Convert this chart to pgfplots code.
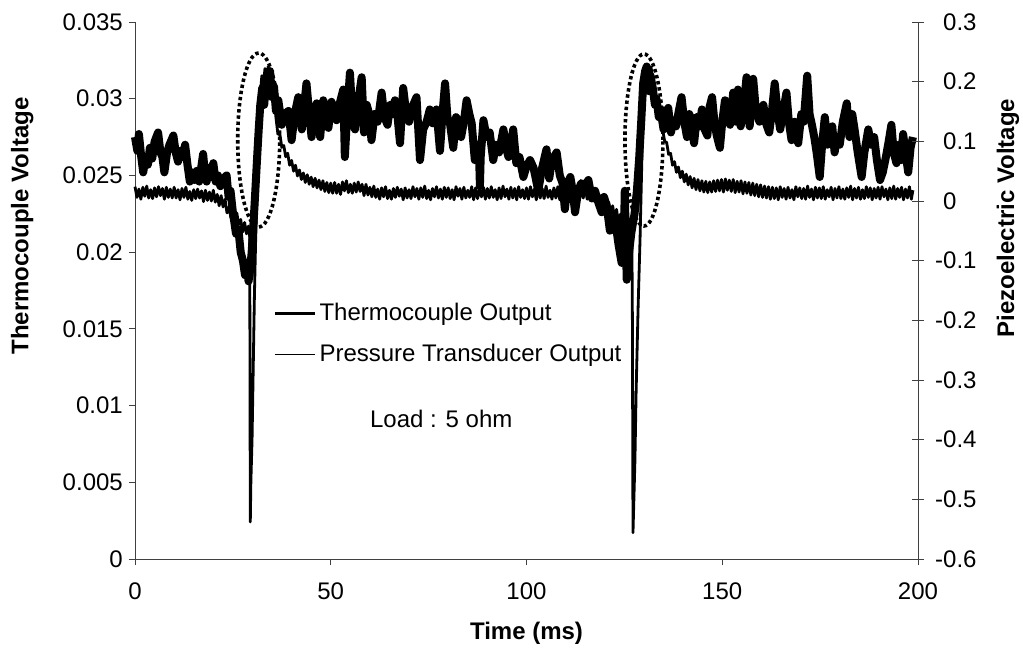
\documentclass[border=0pt]{standalone}
\usepackage{fontspec}
\setmainfont{Liberation Sans}
\usepackage{pgfplots}
\pgfplotsset{compat=1.18}
\begin{document}
\begin{tikzpicture}
\useasboundingbox (-135pt,-92pt) rectangle (888pt,559pt);
\pgfplotsset{
  common/.style={scale only axis, width=783pt, height=537pt, at={(0pt,0pt)}, anchor=south west,
    xmin=0, xmax=200, font=\fontsize{24}{28}\selectfont,
    scaled x ticks=false, scaled y ticks=false,
    axis line style={-, line width=0.9pt, black!75}, tick style={line width=0.9pt, black!75},
    clip=false},
}
\begin{axis}[common,
  ymin=0, ymax=0.035,
  axis x line*=bottom, axis y line*=left,
  xtick={0,50,100,150,200}, xticklabels={0,50,100,150,200},
  ytick={0,0.005,0.01,0.015,0.02,0.025,0.03,0.035},
  yticklabels={0,0.005,0.01,0.015,0.02,0.025,0.03,0.035},
  tick align=outside, major tick length=6pt,
  yticklabel style={anchor=east, inner sep=0pt, xshift=-6pt},
  xticklabel style={anchor=north, inner sep=0pt, yshift=-18pt},
  xlabel={\bfseries Time (ms)}, ylabel={\bfseries Thermocouple Voltage},
  xlabel style={at={(axis description cs:0.5,-0.138)}, anchor=center},
  ylabel style={at={(axis description cs:-0.144,0.62)}, anchor=center},
  legend style={at={(axis cs:35.25,0.01664)}, anchor=north west, draw=none, fill=none,
    inner sep=0pt, outer sep=0pt, row sep=19pt, column sep=3pt,
    nodes={inner sep=0pt, text height=17pt, text depth=5pt},
    font=\fontsize{24}{28}\selectfont},
  legend cell align=left,
  legend image code/.code={\draw[#1] (0pt,1pt) -- (40pt,1pt);},
]
\addplot[black, line width=8pt, line join=round, forget plot] coordinates {
(0,0.0275) (0.6,0.0266) (1.0,0.0277) (1.6,0.0262) (2.1,0.0252) (2.7,0.0262) (3.3,0.0257) (3.8,0.0268)
(4.4,0.0261) (5.0,0.0272) (5.9,0.0278) (6.5,0.0265) (7.0,0.0262) (7.5,0.0252) (8.2,0.0265) (8.8,0.0270)
(9.8,0.0276) (10.4,0.0265) (11.0,0.0259) (11.6,0.0266) (12.2,0.0262) (12.8,0.0270) (13.4,0.0257) (14.0,0.0246)
(14.6,0.0252) (15.2,0.0247) (15.8,0.0253) (16.4,0.0246) (17.4,0.0264) (17.9,0.0250) (18.3,0.0246) (18.8,0.0255)
(19.4,0.0249) (20.0,0.0258) (20.6,0.0246) (21.2,0.0250) (21.8,0.0243) (22.6,0.0248) (23.4,0.0250) (23.9,0.0236)
(24.4,0.0240) (25.0,0.0226) (25.8,0.0212) (26.4,0.0215) (27.0,0.0200) (27.6,0.0194) (28.1,0.0185) (28.5,0.0193)
(29.0,0.0181) (29.3,0.0186) (29.8,0.0200) (30.3,0.0220) (30.8,0.0243) (31.2,0.0262) (31.6,0.0280) (32.0,0.0296)
(32.5,0.0307) (33.0,0.0296) (33.5,0.0312) (34.0,0.0303) (34.5,0.0318) (35.0,0.0301) (35.5,0.0308) (36.0,0.0292)
(36.6,0.0299) (37.5,0.0283) (38.2,0.0290) (39.2,0.0292) (40.0,0.0273) (40.8,0.0290) (41.7,0.0301) (42.6,0.0280)
(43.2,0.0295) (43.8,0.0310) (44.5,0.0290) (45.1,0.0275) (45.8,0.0292) (46.4,0.0297) (47.3,0.0275) (48.1,0.0299)
(48.8,0.0285) (49.4,0.0281) (50.2,0.0298) (50.8,0.0290) (51.5,0.0286) (52.2,0.0296) (53.2,0.0306) (53.6,0.0262)
(54.2,0.0290) (54.9,0.0317) (55.6,0.0285) (56.2,0.0280) (57.0,0.0298) (57.9,0.0314) (58.5,0.0278) (59.2,0.0296)
(59.8,0.0290) (60.4,0.0273) (61.2,0.0290) (62.0,0.0285) (63.0,0.0304) (63.7,0.0288) (64.5,0.0283) (65.2,0.0296)
(65.8,0.0290) (66.4,0.0299) (67.0,0.0290) (67.7,0.0271) (68.5,0.0307) (69.3,0.0290) (70.0,0.0285) (70.9,0.0295)
(71.9,0.0301) (72.8,0.0260) (73.6,0.0280) (74.5,0.0285) (75.3,0.0293) (76.0,0.0284) (77.0,0.0293) (77.9,0.0266)
(78.6,0.0292) (79.2,0.0310) (79.8,0.0288) (80.5,0.0283) (81.3,0.0268) (82.0,0.0288) (82.7,0.0285) (83.3,0.0275)
(84.0,0.0285) (84.7,0.0299) (85.4,0.0290) (86.0,0.0284) (86.8,0.0260) (87.5,0.0270) (87.9,0.0262) (88.1,0.0243)
(88.3,0.0262) (89.0,0.0286) (89.8,0.0275) (90.6,0.0278) (91.5,0.0260) (92.2,0.0270) (93.0,0.0265) (94.1,0.0280)
(94.8,0.0268) (95.4,0.0262) (96.0,0.0270) (96.6,0.0280) (97.4,0.0258) (98.2,0.0262) (99.2,0.0249) (100.0,0.0256)
(100.9,0.0260) (101.8,0.0255) (103.0,0.0240) (104.0,0.0255) (105.1,0.0267) (105.8,0.0248) (106.5,0.0260) (107.7,0.0265)
(108.5,0.0250) (109.2,0.0245) (109.8,0.0228) (110.5,0.0245) (111.2,0.0249) (111.8,0.0240) (112.4,0.0226) (113.2,0.0240)
(114.0,0.0245) (114.8,0.0243) (115.8,0.0247) (116.7,0.0235) (117.5,0.0240) (118.4,0.0232) (119.2,0.0226) (119.8,0.0236)
(120.5,0.0230) (121.3,0.0214) (122.0,0.0222) (122.8,0.0218) (123.5,0.0205) (124.3,0.0193) (124.8,0.0200) (125.1,0.0240)
(125.4,0.0205) (125.6,0.0182) (126.2,0.0200) (126.8,0.0213) (127.6,0.0225) (128.2,0.0240) (128.8,0.0262) (129.3,0.0285)
(129.8,0.0310) (130.3,0.0318) (130.7,0.0321) (131.2,0.0305) (131.7,0.0315) (132.3,0.0306) (132.8,0.0296) (133.2,0.0300)
(133.8,0.0288) (134.3,0.0293) (135.0,0.0280) (135.6,0.0290) (136.2,0.0294) (136.9,0.0278) (137.5,0.0286) (138.2,0.0282)
(138.9,0.0292) (139.6,0.0301) (140.3,0.0285) (141.0,0.0275) (141.6,0.0290) (142.2,0.0283) (142.8,0.0271) (143.5,0.0288)
(144.2,0.0282) (144.8,0.0293) (145.5,0.0280) (146.2,0.0276) (146.8,0.0295) (147.4,0.0301) (148.0,0.0285) (148.6,0.0276)
(149.4,0.0268) (150.0,0.0285) (150.7,0.0299) (151.3,0.0289) (152.0,0.0283) (152.8,0.0304) (153.5,0.0285) (154.0,0.0306)
(154.7,0.0282) (155.3,0.0290) (156.2,0.0314) (157.0,0.0282) (157.9,0.0313) (158.6,0.0292) (159.5,0.0285) (160.5,0.0296)
(161.3,0.0283) (162.0,0.0278) (162.7,0.0292) (163.4,0.0310) (164.2,0.0290) (164.8,0.0280) (165.6,0.0292) (166.4,0.0304)
(167.0,0.0285) (167.7,0.0273) (168.5,0.0285) (169.4,0.0271) (170.2,0.0290) (170.8,0.0285) (171.7,0.0315) (172.3,0.0290)
(172.9,0.0283) (173.5,0.0275) (174.1,0.0265) (174.9,0.0249) (175.5,0.0270) (176.2,0.0288) (176.9,0.0270) (177.5,0.0278)
(178.1,0.0282) (178.7,0.0265) (179.3,0.0275) (180.0,0.0270) (180.8,0.0285) (181.8,0.0297) (182.5,0.0275) (183.2,0.0290)
(183.8,0.0280) (184.6,0.0265) (185.6,0.0249) (186.3,0.0265) (187.3,0.0280) (188.0,0.0270) (188.8,0.0275) (189.5,0.0260)
(190.3,0.0247) (191.0,0.0252) (191.8,0.0262) (192.5,0.0272) (193.2,0.0283) (193.8,0.0265) (194.5,0.0258) (195.1,0.0270)
(195.7,0.0260) (196.2,0.0277) (196.8,0.0265) (197.5,0.0252) (198.1,0.0268) (198.7,0.0275)
};
\addlegendimage{black, line width=3.5pt}
\addlegendentry{Thermocouple Output}
\addlegendimage{black, line width=1pt}
\addlegendentry{Pressure Transducer Output}
\draw[black, line width=3.6pt, dash pattern=on 3.4pt off 2.8pt] (axis cs:31.6,0.02731) ellipse [x radius=21pt, y radius=87pt];
\draw[black, line width=3.6pt, dash pattern=on 3.4pt off 2.8pt] (axis cs:130.0,0.02731) ellipse [x radius=19pt, y radius=86pt];
\node[anchor=base west, inner sep=0pt, font=\fontsize{24}{28}\selectfont] at (axis cs:60.0,0.00854) {Load : 5 ohm};
\end{axis}
\begin{axis}[common,
  ymin=-0.6, ymax=0.3,
  axis y line*=right, axis x line=none,
  ytick={-0.6,-0.5,-0.4,-0.3,-0.2,-0.1,0,0.1,0.2,0.3},
  yticklabels={\llap{-}0.6,\llap{-}0.5,\llap{-}0.4,\llap{-}0.3,\llap{-}0.2,\llap{-}0.1,0,0.1,0.2,0.3},
  tick align=center, major tick length=12pt,
  yticklabel style={anchor=west, inner sep=0pt, xshift=19pt},
  ylabel={\bfseries Piezoelectric Voltage},
  ylabel style={at={(axis description cs:1.115,0.635)}, anchor=center},
]
\addplot[black, line width=2.8pt, line join=round] coordinates {
(0,0.024) (0.5,0.006) (1,0.020) (1.5,0.003) (2,0.023) (2.5,0.008) (3,0.025) (3.5,0.005) (4,0.019) (4.5,0.004)
(5,0.022) (5.5,0.007) (6,0.024) (6.5,0.009) (7,0.021) (7.5,0.003) (8,0.023) (8.5,0.006) (9,0.020) (9.5,0.005)
(10,0.023) (10.5,0.005) (11,0.019) (11.5,0.002) (12,0.021) (12.5,0.006) (13,0.023) (13.5,0.003) (14,0.016) (14.5,0.001)
(15,0.019) (15.5,0.004) (16,0.020) (16.5,0.005) (17,0.017) (17.5,-0.001) (18,0.018) (18.5,0.001) (19,0.015) (19.5,0.000)
(20,0.018) (20.5,-0.002) (21,0.011) (21.5,-0.008) (22,0.009) (22.5,-0.010) (23,0.003) (23.5,-0.020) (24,-0.010) (24.5,-0.028)
(25,-0.014) (25.5,-0.033) (26,-0.020) (26.5,-0.039) (27,-0.031) (27.5,-0.052) (28,-0.036) (28.5,-0.055) (29,-0.042) (29.3,-0.060)
(29.45,-0.538) (29.6,-0.470) (29.9,-0.400) (30.2,-0.280) (30.5,-0.160) (30.8,-0.070) (31.1,0.000) (31.4,0.085) (31.9,0.170) (32.4,0.210)
(32.8,0.195) (33.2,0.222) (33.6,0.205) (34.0,0.225) (34.4,0.208) (34.8,0.215) (35.2,0.190) (35.6,0.170) (36.0,0.140) (36.5,0.112)
(37,0.112) (37.5,0.090) (38,0.093) (38.5,0.074) (39,0.080) (39.5,0.060) (40,0.068) (40.5,0.050) (41,0.060) (41.5,0.042)
(42,0.052) (42.5,0.036) (43,0.047) (43.5,0.031) (44,0.044) (44.5,0.028) (45,0.040) (45.5,0.024) (46,0.038) (46.5,0.022)
(47,0.035) (47.5,0.019) (48,0.034) (48.5,0.016) (49,0.031) (49.5,0.014) (50,0.030) (50.5,0.013)
(51,0.031) (51.5,0.013) (52,0.028) (52.5,0.011) (53,0.032) (53.5,0.017) (54,0.034) (54.5,0.014) (55,0.028) (55.5,0.013)
(56,0.030) (56.5,0.015) (57,0.032) (57.5,0.016) (58,0.028) (58.5,0.009) (59,0.028) (59.5,0.010) (60,0.023) (60.5,0.007)
(61,0.025) (61.5,0.006) (62,0.020) (62.5,0.003)
(63,0.022) (63.5,0.007) (64,0.024) (64.5,0.004) (65,0.018) (65.5,0.003) (66,0.021) (66.5,0.006) (67,0.023) (67.5,0.008)
(68,0.020) (68.5,0.002) (69,0.022) (69.5,0.005) (70,0.019) (70.5,0.004) (71,0.024) (71.5,0.007) (72,0.021) (72.5,0.003)
(73,0.022) (73.5,0.006) (74,0.025) (74.5,0.004) (75,0.018) (75.5,0.002) (76,0.021) (76.5,0.007) (77,0.024) (77.5,0.005)
(78,0.020) (78.5,0.003) (79,0.023) (79.5,0.006) (80,0.022) (80.5,0.004) (81,0.019) (81.5,0.002) (82,0.024) (82.5,0.008)
(83,0.021) (83.5,0.003) (84,0.023) (84.5,0.005) (85,0.018) (85.5,0.006) (86,0.024) (86.5,0.002) (87,0.022) (87.5,0.004)
(88,0.020) (88.5,0.007) (89,0.023) (89.5,0.003) (90,0.021) (90.5,0.005) (91,0.024) (91.5,0.006) (92,0.019) (92.5,0.002)
(93,0.022) (93.5,0.004) (94,0.025) (94.5,0.007) (95,0.020) (95.5,0.003) (96,0.023) (96.5,0.005) (97,0.021) (97.5,0.002)
(98,0.024) (98.5,0.006) (99,0.019) (99.5,0.004) (100,0.022) (100.5,0.003) (101,0.024) (101.5,0.007) (102,0.020) (102.5,0.002)
(103,0.023) (103.5,0.005) (104,0.021) (104.5,0.004) (105,0.025) (105.5,0.006) (106,0.018) (106.5,0.003) (107,0.022) (107.5,0.005)
(108,0.024) (108.5,0.002) (109,0.020) (109.5,0.006) (110,0.023) (110.5,0.004) (111,0.021) (111.5,0.003) (112,0.024) (112.5,0.007)
(113,0.019) (113.5,0.002) (114,0.022) (114.5,0.005) (115,0.023) (115.5,0.003) (116,0.020) (116.5,0.001)
(117,0.018) (117.5,-0.002) (118,0.014) (118.5,-0.008) (119,0.009) (119.5,-0.009) (120,0.005) (120.5,-0.018) (121,-0.002) (121.5,-0.024)
(122,-0.008) (122.5,-0.028) (123,-0.014) (123.5,-0.038) (124,-0.022) (124.5,-0.045) (125,-0.030) (125.5,-0.052) (126,-0.037) (126.5,-0.058)
(126.9,-0.045) (127.05,-0.200) (127.2,-0.556) (127.7,-0.434) (128.0,-0.320) (128.5,-0.180) (129.0,-0.065) (129.4,0.050) (129.8,0.170) (130.3,0.215)
(130.8,0.228) (131.3,0.205) (131.8,0.225) (132.3,0.200) (132.8,0.190) (133.3,0.160) (133.8,0.145) (134.3,0.125) (134.8,0.118)
(135.3,0.100) (135.8,0.098) (136.3,0.078) (136.8,0.080) (137.3,0.060) (137.8,0.066) (138.3,0.048) (138.8,0.057) (139.3,0.039) (139.8,0.050)
(140.3,0.032) (140.8,0.045) (141.3,0.027) (141.8,0.041) (142.3,0.022) (142.8,0.038) (143.3,0.019) (143.8,0.036) (144.3,0.017) (144.8,0.034)
(145.3,0.015) (145.8,0.033) (146.3,0.014) (146.8,0.032) (147.3,0.015) (147.8,0.034)
(148.3,0.016) (148.8,0.035) (149.3,0.017) (149.8,0.036) (150.3,0.015) (150.8,0.037) (151.3,0.018) (151.8,0.035) (152.3,0.016) (152.8,0.036)
(153.3,0.014) (153.8,0.033) (154.3,0.015) (154.8,0.034) (155.3,0.012) (155.8,0.032) (156.3,0.013) (156.8,0.031) (157.3,0.010) (157.8,0.030)
(158.3,0.009) (158.8,0.028) (159.3,0.007) (159.8,0.027) (160.3,0.006) (160.8,0.025) (161.3,0.005) (161.8,0.024) (162.3,0.003) (162.8,0.023)
(163.3,0.004) (163.8,0.022) (164.3,0.002) (164.8,0.024) (165.3,0.006) (165.8,0.021) (166.3,0.003) (166.8,0.023) (167.3,0.005) (167.8,0.019)
(168.3,0.002) (168.8,0.024) (169.3,0.007) (169.8,0.022) (170.3,0.004) (170.8,0.021) (171.3,0.003) (171.8,0.025) (172.3,0.006) (172.8,0.020)
(173.3,0.002) (173.8,0.023) (174.3,0.005) (174.8,0.022) (175.3,0.004) (175.8,0.024) (176.3,0.003) (176.8,0.019) (177.3,0.007) (177.8,0.023)
(178.3,0.002) (178.8,0.021) (179.3,0.005) (179.8,0.024) (180.3,0.004) (180.8,0.020) (181.3,0.003) (181.8,0.022) (182.3,0.006) (182.8,0.025)
(183.3,0.002) (183.8,0.021) (184.3,0.005) (184.8,0.023) (185.3,0.003) (185.8,0.019) (186.3,0.004) (186.8,0.024) (187.3,0.006) (187.8,0.022)
(188.3,0.002) (188.8,0.021) (189.3,0.005) (189.8,0.023) (190.3,0.003) (190.8,0.024) (191.3,0.007) (191.8,0.020) (192.3,0.002) (192.8,0.022)
(193.3,0.004) (193.8,0.025) (194.3,0.003) (194.8,0.021) (195.3,0.006) (195.8,0.023) (196.3,0.002) (196.8,0.020) (197.3,0.005) (197.8,0.024)
(198.3,0.003) (198.7,0.018)
};
\end{axis}
\end{tikzpicture}
\end{document}
